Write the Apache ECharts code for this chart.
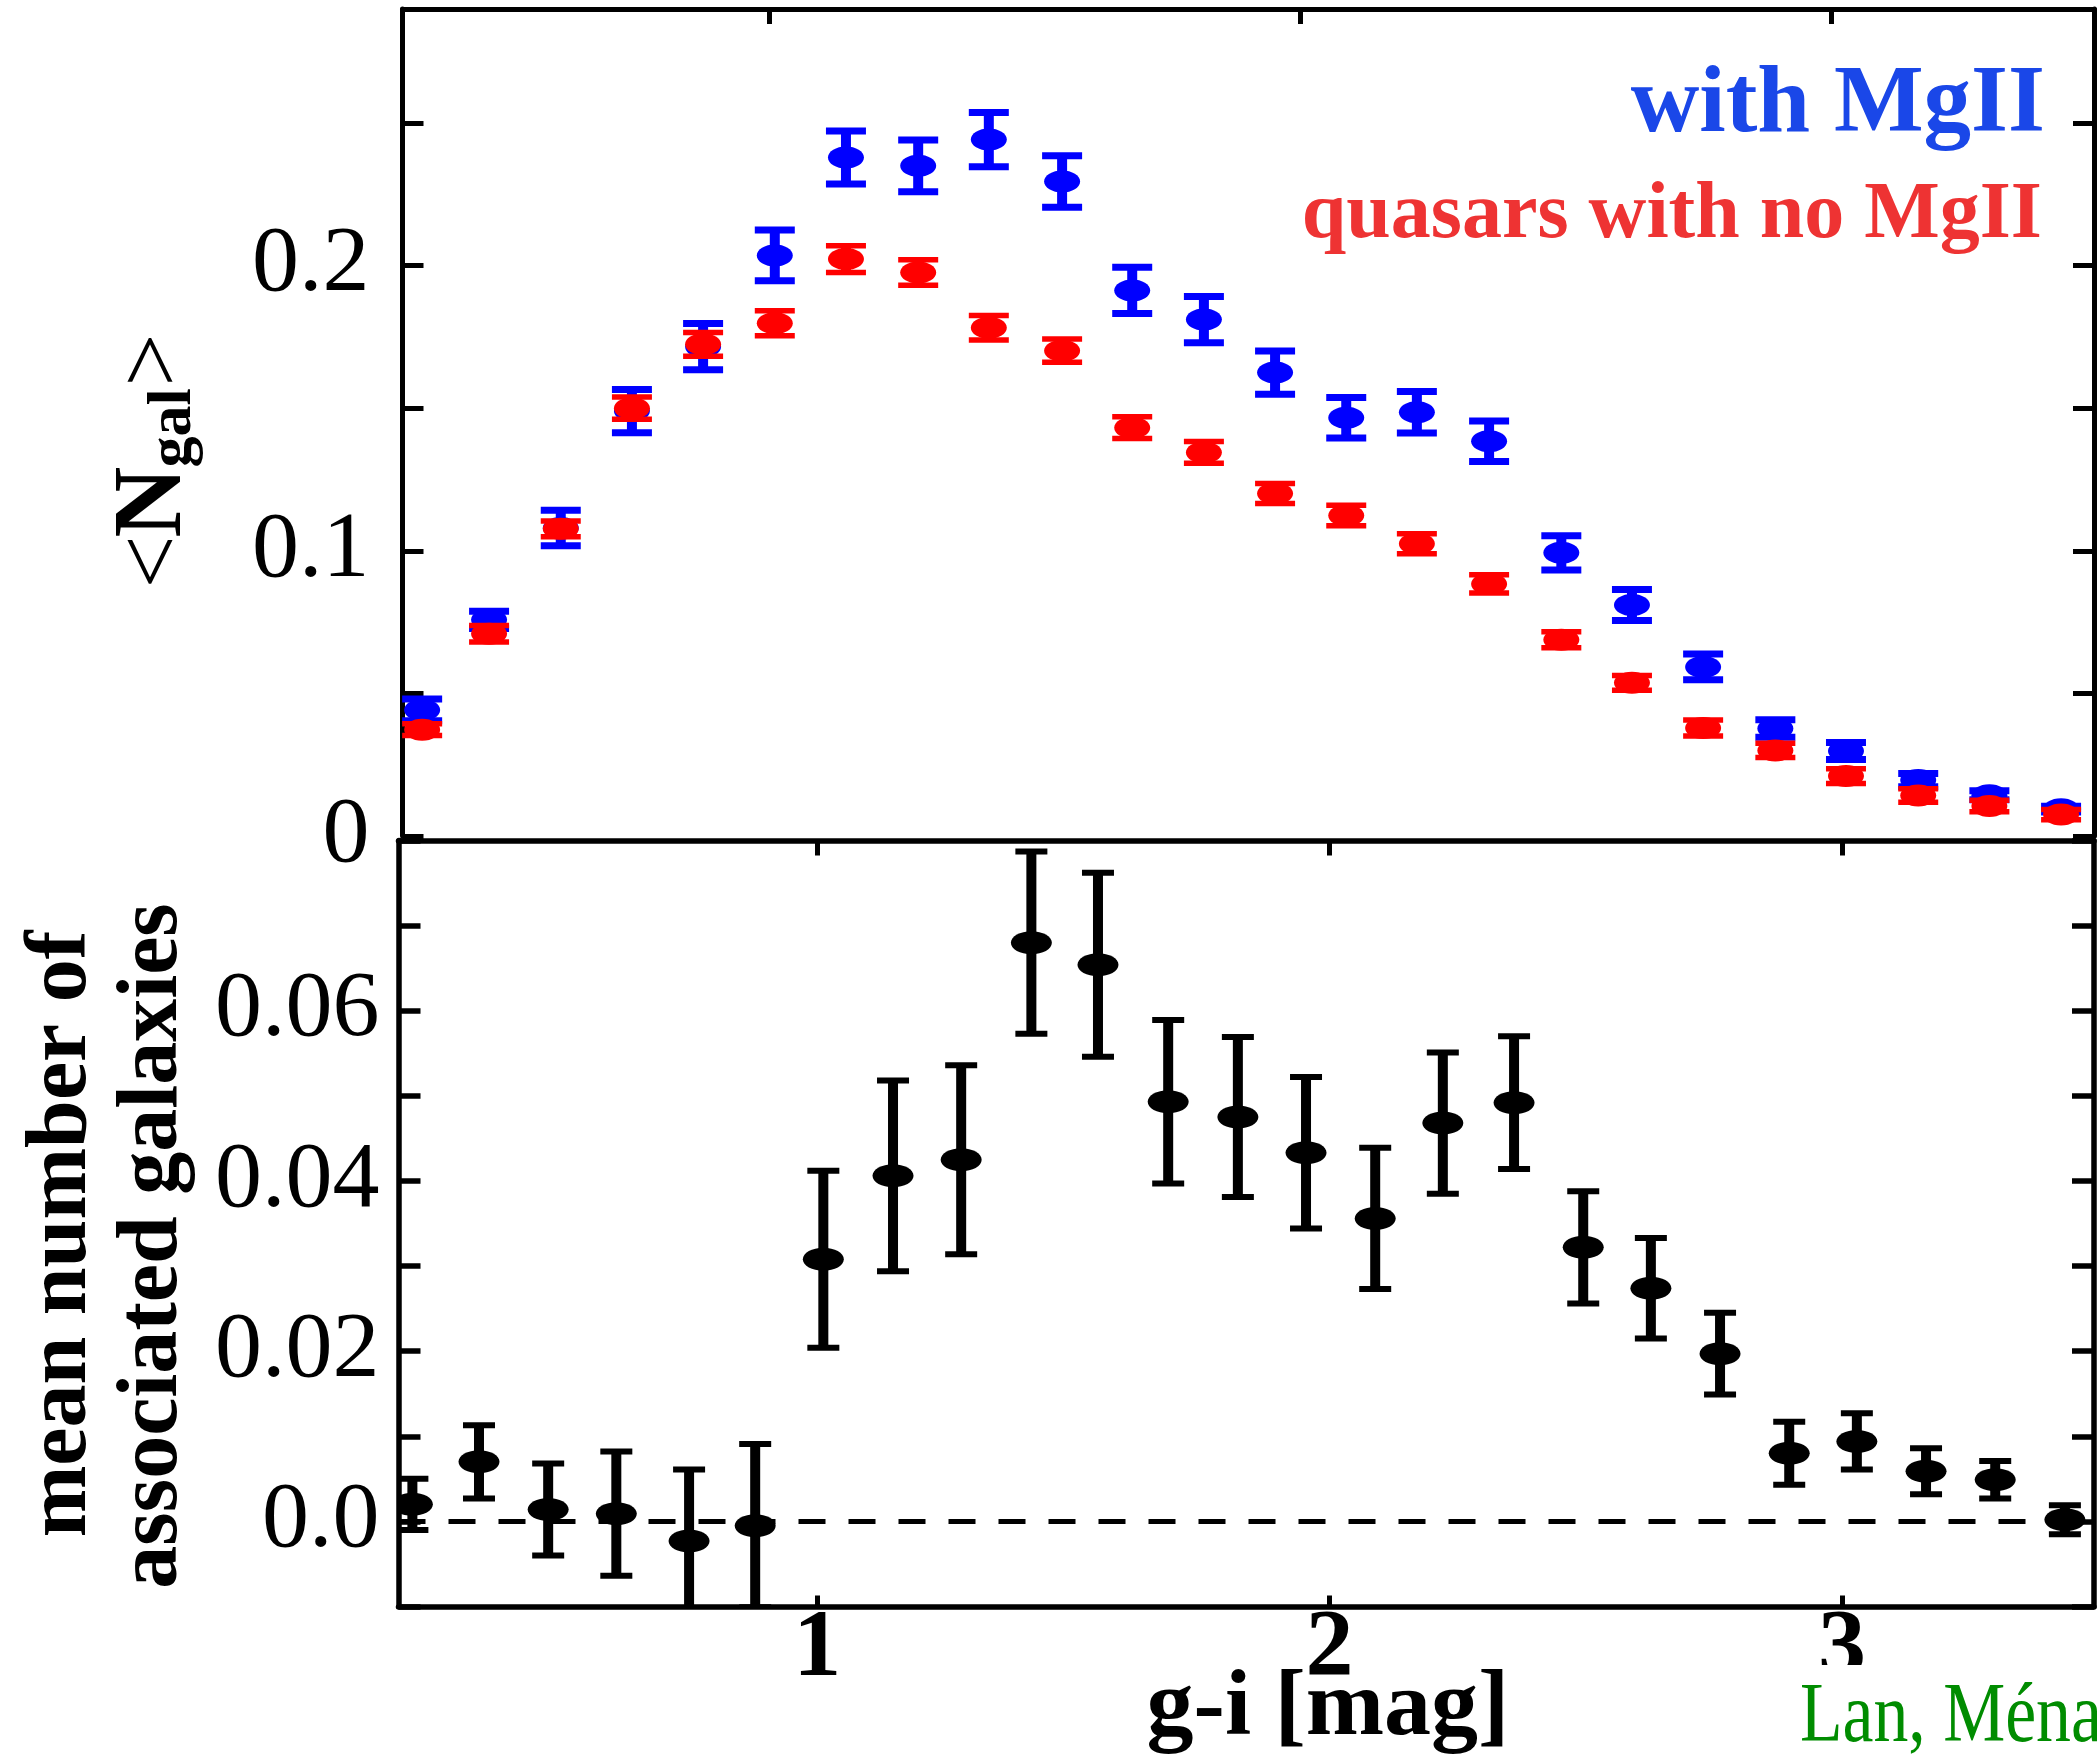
<!DOCTYPE html>
<html>
<head>
<meta charset="utf-8">
<script src="https://cdn.jsdelivr.net/npm/echarts@6/dist/echarts.min.js"></script>
<style>html,body{margin:0;padding:0;background:#fff}#c{width:2097px;height:1762px}</style>
</head>
<body>
<div id="c"></div>
<script>
// ---- top panel: <N_gal> vs g-i ----
const giTop = [0.347, 0.473, 0.608, 0.742, 0.876, 1.011, 1.145, 1.281, 1.414, 1.552, 1.684, 1.819,
               1.953, 2.087, 2.220, 2.356, 2.492, 2.625, 2.759, 2.895, 3.028, 3.164, 3.298, 3.433];
const nGalMgII = [0.0442, 0.0758, 0.1080, 0.1490, 0.1716, 0.2036, 0.2379, 0.2350, 0.2442, 0.2295, 0.1913, 0.1811,
                  0.1625, 0.1467, 0.1486, 0.1384, 0.0993, 0.0810, 0.0593, 0.0377, 0.0298, 0.0196, 0.0143, 0.0094];
const nGalMgIIErr = [0.0038, 0.0030, 0.0062, 0.0076, 0.0081, 0.0089, 0.0093, 0.0091, 0.0095, 0.0090, 0.0081, 0.0081,
                     0.0076, 0.0071, 0.0073, 0.0071, 0.0060, 0.0054, 0.0045, 0.0031, 0.0030, 0.0023, 0.0016, 0.0010];
const nGalNoMgII = [0.0373, 0.0709, 0.1077, 0.1500, 0.1724, 0.1798, 0.2023, 0.1976, 0.1782, 0.1702, 0.1432, 0.1345,
                    0.1201, 0.1124, 0.1025, 0.0884, 0.0688, 0.0537, 0.0379, 0.0300, 0.0210, 0.0142, 0.0105, 0.0075];
const nGalNoMgIIErr = [0.0021, 0.0029, 0.0028, 0.0039, 0.0042, 0.0044, 0.0047, 0.0045, 0.0043, 0.0041, 0.0038, 0.0038,
                       0.0035, 0.0036, 0.0035, 0.0032, 0.0028, 0.0026, 0.0028, 0.0025, 0.0026, 0.0024, 0.0020, 0.0018];
const topYLabelValues = [0, 0.1, 0.2];
const topYLabels = ['0', '0.1', '0.2'];

// ---- bottom panel: excess (mean number of associated galaxies) ----
const giBottom = [0.210, 0.340, 0.475, 0.608, 0.750, 0.879, 1.012, 1.148, 1.281, 1.418, 1.548, 1.685, 1.821,
                  1.954, 2.089, 2.221, 2.360, 2.495, 2.627, 2.762, 2.897, 3.029, 3.164, 3.299, 3.435];
const excessGal = [0.0020, 0.0070, 0.0014, 0.0009, -0.0023, -0.0005, 0.0308, 0.0406, 0.0425, 0.0680, 0.0654, 0.0493, 0.0475,
                   0.0433, 0.0356, 0.0468, 0.0492, 0.0322, 0.0274, 0.0197, 0.0080, 0.0094, 0.0059, 0.0049, 0.0002];
const excessGalErr = [0.0030, 0.0043, 0.0054, 0.0073, 0.0084, 0.0096, 0.0104, 0.0112, 0.0111, 0.0107, 0.0108, 0.0096, 0.0094,
                      0.0089, 0.0083, 0.0083, 0.0078, 0.0066, 0.0059, 0.0048, 0.0037, 0.0033, 0.0027, 0.0022, 0.0017];
const bottomYLabelValues = [0, 0.02, 0.04, 0.06];
const bottomYLabels = ['0.0', '0.02', '0.04', '0.06'];

const xTickValues = [1, 2, 3];
const xTickLabels = ['1', '2', '3'];

const SERIF = '"Liberation Serif","Times New Roman","DejaVu Serif",serif';

function errRender(o) {
  return function (params, api) {
    const x = api.value(0), y = api.value(1), e = api.value(2);
    const c = api.coord([x, y]);
    const hi = api.coord([x, y + e]);
    const lo = api.coord([x, y - e]);
    const hw = o.capW / 2;
    return {
      type: 'group',
      children: [
        {type: 'line', shape: {x1: c[0], y1: hi[1], x2: c[0], y2: lo[1]}, style: {stroke: o.color, lineWidth: o.barW}},
        {type: 'line', shape: {x1: c[0] - hw, y1: hi[1], x2: c[0] + hw, y2: hi[1]}, style: {stroke: o.color, lineWidth: o.capT}},
        {type: 'line', shape: {x1: c[0] - hw, y1: lo[1], x2: c[0] + hw, y2: lo[1]}, style: {stroke: o.color, lineWidth: o.capT}},
        {type: 'ellipse', shape: {cx: c[0], cy: c[1], rx: o.rx, ry: o.ry}, style: {fill: o.color}}
      ]
    };
  };
}

function labelMap(values, labels) {
  return function (v) {
    for (let i = 0; i < values.length; i++) if (Math.abs(v - values[i]) < 1e-9) return labels[i];
    return '';
  };
}

const chart = echarts.init(document.getElementById('c'), null, {renderer: 'canvas'});

const axisLineTop = {show: true, onZero: false, lineStyle: {color: '#000', width: 5}};
const axisLineBot = {show: true, onZero: false, lineStyle: {color: '#000', width: 5.5}};

const option = {
  animation: false,
  backgroundColor: '#fff',
  grid: [
    {left: 402.5, top: 9, width: 1691.5, height: 827, outerBoundsMode: 'none', containLabel: false},
    {left: 398.5, top: 840.5, width: 1695.5, height: 766, outerBoundsMode: 'none', containLabel: false}
  ],
  xAxis: [
    {gridIndex: 0, type: 'value', position: 'top', min: 0.31, max: 3.495,
     axisLine: axisLineTop,
     axisTick: {show: true, inside: true, length: 15, lineStyle: {color: '#000', width: 5}, customValues: xTickValues},
     axisLabel: {show: false}, splitLine: {show: false}},
    {gridIndex: 1, type: 'value', position: 'bottom', min: 0.1829, max: 3.4918,
     axisLine: axisLineBot,
     axisTick: {show: true, inside: true, length: 11, lineStyle: {color: '#000', width: 5}, customValues: xTickValues},
     axisLabel: {show: true, customValues: xTickValues, formatter: labelMap(xTickValues, xTickLabels),
                 fontFamily: SERIF, fontWeight: 'bold', fontSize: 96, lineHeight: 96, color: '#000', margin: -4},
     splitLine: {show: false}},
    {gridIndex: 1, type: 'value', position: 'top', min: 0.1829, max: 3.4918,
     axisLine: axisLineBot,
     axisTick: {show: true, inside: true, length: 15, lineStyle: {color: '#000', width: 5}, customValues: xTickValues},
     axisLabel: {show: false}, splitLine: {show: false}}
  ],
  yAxis: [
    {gridIndex: 0, type: 'value', position: 'left', min: 0, max: 0.29, interval: 0.05,
     axisLine: axisLineTop,
     axisTick: {show: true, inside: true, length: 21, lineStyle: {color: '#000', width: 5}},
     axisLabel: {show: true, customValues: topYLabelValues, formatter: labelMap(topYLabelValues, topYLabels),
                 fontFamily: SERIF, fontSize: 94, color: '#000', margin: 33},
     splitLine: {show: false}},
    {gridIndex: 0, type: 'value', position: 'right', min: 0, max: 0.29, interval: 0.05,
     axisLine: axisLineTop,
     axisTick: {show: true, inside: true, length: 21, lineStyle: {color: '#000', width: 5}},
     axisLabel: {show: false}, splitLine: {show: false}},
    {gridIndex: 1, type: 'value', position: 'left', min: -0.01, max: 0.08, interval: 0.01,
     axisLine: axisLineBot,
     axisTick: {show: true, inside: true, length: 22, lineStyle: {color: '#000', width: 5.5}},
     axisLabel: {show: true, customValues: bottomYLabelValues, formatter: labelMap(bottomYLabelValues, bottomYLabels),
                 fontFamily: SERIF, fontSize: 94, color: '#000', margin: 19},
     splitLine: {show: false}},
    {gridIndex: 1, type: 'value', position: 'right', min: -0.01, max: 0.08, interval: 0.01,
     axisLine: axisLineBot,
     axisTick: {show: true, inside: true, length: 22, lineStyle: {color: '#000', width: 5.5}},
     axisLabel: {show: false}, splitLine: {show: false}}
  ],
  series: [
    {
      name: 'with MgII', type: 'custom', xAxisIndex: 0, yAxisIndex: 0, clip: true, z: 3,
      renderItem: errRender({color: '#0000ff', barW: 10, capW: 40, capT: 7, rx: 18, ry: 11}),
      encode: {x: 0, y: 1},
      data: giTop.map((x, i) => [x, nGalMgII[i], nGalMgIIErr[i]])
    },
    {
      name: 'quasars with no MgII', type: 'custom', xAxisIndex: 0, yAxisIndex: 0, clip: true, z: 4,
      renderItem: errRender({color: '#ff0000', barW: 10, capW: 40, capT: 5.5, rx: 18, ry: 11}),
      encode: {x: 0, y: 1},
      data: giTop.map((x, i) => [x, nGalNoMgII[i], nGalNoMgIIErr[i]])
    },
    {
      name: 'zero', type: 'line', xAxisIndex: 1, yAxisIndex: 2, data: [], z: 1,
      markLine: {silent: true, symbol: ['none', 'none'], label: {show: false},
                 lineStyle: {color: '#000', width: 5, type: [27, 23]},
                 data: [{yAxis: 0}]}
    },
    {
      name: 'excess', type: 'custom', xAxisIndex: 1, yAxisIndex: 2, clip: true, z: 3,
      renderItem: errRender({color: '#000000', barW: 10, capW: 32, capT: 6, rx: 20.5, ry: 11.5}),
      encode: {x: 0, y: 1},
      data: giBottom.map((x, i) => [x, excessGal[i], excessGalErr[i]])
    }
  ],
  graphic: [
    // y title, top panel: <N_gal>
    {type: 'text', x: 156, y: 562, rotation: Math.PI / 2, z: 50,
     style: {text: '<', font: '94px ' + SERIF, fill: '#000', align: 'center', verticalAlign: 'middle'}},
    {type: 'text', x: 155, y: 502, rotation: Math.PI / 2, z: 50,
     style: {text: 'N', font: 'bold 98px ' + SERIF, fill: '#000', align: 'center', verticalAlign: 'middle'}},
    {type: 'text', x: 174, y: 428, rotation: Math.PI / 2, z: 50,
     style: {text: 'gal', font: 'bold 62px ' + SERIF, fill: '#000', align: 'center', verticalAlign: 'middle'}},
    {type: 'text', x: 156, y: 360, rotation: Math.PI / 2, z: 50,
     style: {text: '>', font: '94px ' + SERIF, fill: '#000', align: 'center', verticalAlign: 'middle'}},
    // y title, bottom panel
    {type: 'text', x: 63, y: 1234, rotation: Math.PI / 2, z: 50,
     style: {text: 'mean number of', font: 'bold 86px ' + SERIF, fill: '#000', align: 'center', verticalAlign: 'middle'}},
    {type: 'text', x: 154, y: 1246, rotation: Math.PI / 2, z: 50,
     style: {text: 'associated galaxies', font: 'bold 86px ' + SERIF, fill: '#000', align: 'center', verticalAlign: 'middle'}},
    // x title
    {type: 'text', x: 1328, y: 1710, z: 50,
     style: {text: 'g-i [mag]', font: 'bold 94px ' + SERIF, fill: '#000', align: 'center', verticalAlign: 'middle'}},
    // legend texts
    {type: 'text', x: 2045, y: 106, z: 50,
     style: {text: 'with MgII', font: 'bold 95px ' + SERIF, fill: '#1a47e8', align: 'right', verticalAlign: 'middle'}},
    {type: 'text', x: 2042, y: 216, z: 50,
     style: {text: 'quasars with no MgII', font: 'bold 80px ' + SERIF, fill: '#ee3333', align: 'right', verticalAlign: 'middle'}},
    // credit box (covers lower part of the "3" label as in the original)
    {type: 'rect', shape: {x: 1790, y: 1665, width: 307, height: 97}, style: {fill: '#fff'}, z: 60},
    {type: 'text', x: 1800, y: 1719, scaleX: 0.82, z: 61,
     style: {text: 'Lan, Ménard & Zhu', font: '85px ' + SERIF, fill: '#008c00', align: 'left', verticalAlign: 'middle'}}
  ]
};
chart.setOption(option);
</script>
</body>
</html>
